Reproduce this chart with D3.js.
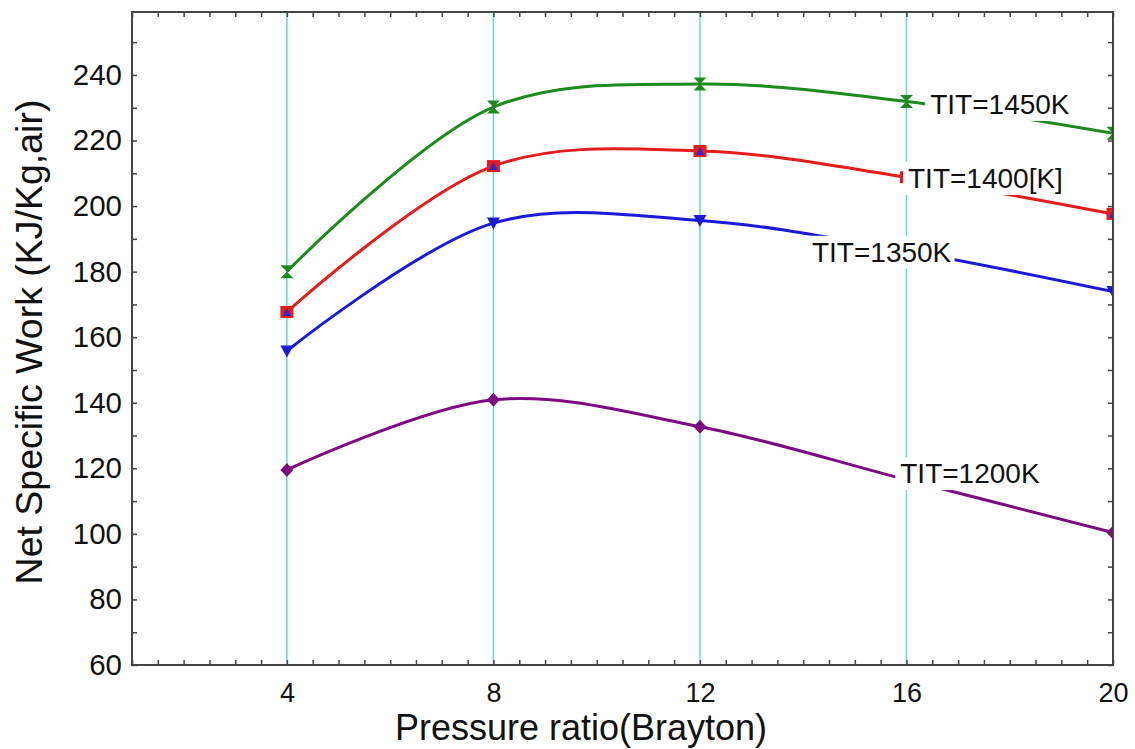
<!DOCTYPE html>
<html>
<head>
<meta charset="UTF-8">
<title>Net Specific Work</title>
<style>
body, html {
	padding: 0;
	margin: 0;
	overflow: hidden;
	background: #ffffff;
	font-family: Arial, 'Liberation Sans', sans-serif;
}
</style>
<script src="https://cdn.jsdelivr.net/npm/d3@7"></script>
</head>
<body>
<div id="chart"></div>
<script>
// values
var pressureRatio = [4, 8, 12, 16, 20];
var work1450 = [180.0, 230.2, 237.2, 231.9, 222.2];
var work1400 = [167.7, 212.2, 216.8, 208.8, 197.6];
var work1350 = [155.8, 194.8, 195.6, 186.3, 173.9];
var work1200 = [119.5, 140.9, 132.7, 116.5, 100.4];

var seriesNames = ["TIT=1450K", "TIT=1400[K]", "TIT=1350K", "TIT=1200K"];
var xTickLabels = [4, 8, 12, 16, 20];
var yTickLabels = [60, 80, 100, 120, 140, 160, 180, 200, 220, 240];
var gridX = [4, 8, 12, 16];

// where each curve label sits, in data units (text start, baseline)
var labelX = [16.46, 16.03, 14.17, 15.88];
var labelY = [228.1, 205.5, 183.0, 115.5];

var colors = ["#1c8a1c", "#e41c1c", "#1a1ad8", "#7d0a80"];
var markers = ["hourglass", "square", "down", "diamond"];

var width = 1135;
var height = 749;
var margin = {top: 12, right: 22, bottom: 84, left: 132};

var svg = d3.select("#chart").append("svg")
	.attr("width", width)
	.attr("height", height)
	.style("background", "#ffffff");

var x = d3.scaleLinear().domain([1, 20]).range([margin.left, width - margin.right]);
var y = d3.scaleLinear().domain([60, 259.2]).range([height - margin.bottom, margin.top]);

svg.append("clipPath").attr("id", "plotclip").append("rect")
	.attr("x", margin.left).attr("y", margin.top)
	.attr("width", width - margin.left - margin.right)
	.attr("height", height - margin.top - margin.bottom);

// cyan vertical grid
svg.append("g").selectAll("line").data(gridX).enter().append("line")
	.attr("x1", function(d) {return x(d)}).attr("x2", function(d) {return x(d)})
	.attr("y1", margin.top).attr("y2", height - margin.bottom)
	.attr("stroke", "#5fd9de").attr("stroke-width", 1.5);

var allSeries = [work1450, work1400, work1350, work1200];

var line = d3.line()
	.x(function(d, i) {return x(pressureRatio[i])})
	.y(function(d) {return y(d)})
	.curve(d3.curveCatmullRom.alpha(0.5));

var plot = svg.append("g").attr("clip-path", "url(#plotclip)");

plot.selectAll("path.curve").data(allSeries).enter().append("path")
	.attr("class", "curve")
	.attr("d", line)
	.attr("fill", "none")
	.attr("stroke", function(d, i) {return colors[i]})
	.attr("stroke-width", 3);

function markerPath(type) {
	switch (type) {
		case "hourglass":
			return "M-6.5,-6.5L6.5,-6.5L0,0L6.5,6.5L-6.5,6.5L0,0Z";
		case "square":
			return "M-6.5,-6L6.5,-6L6.5,6L-6.5,6Z";
		case "down":
			return "M-6.5,-5.5L6.5,-5.5L0,6.5Z";
		default:
			return "M0,-7L6.5,0L0,7L-6.5,0Z";
	}
}

allSeries.forEach(function(s, k) {
	var g = plot.append("g");
	g.selectAll("path").data(s).enter().append("path")
		.attr("transform", function(d, i) {return "translate(" + x(pressureRatio[i]) + "," + y(d) + ")"})
		.attr("d", markerPath(markers[k]))
		.attr("fill", colors[k]);
	if (markers[k] == "square") {
		g.selectAll("path.inner").data(s).enter().append("path")
			.attr("class", "inner")
			.attr("transform", function(d, i) {return "translate(" + x(pressureRatio[i]) + "," + y(d) + ")"})
			.attr("d", "M0,-4L4,4L-4,4Z")
			.attr("fill", "#2a2ad0");
	}
});

// curve labels on white boxes
var labels = svg.append("g");
seriesNames.forEach(function(name, i) {
	var g = labels.append("g");
	var t = g.append("text")
		.attr("x", x(labelX[i]))
		.attr("y", y(labelY[i]))
		.attr("font-size", "28px")
		.attr("fill", "#111111")
		.text(name);
	var b = t.node().getBBox();
	g.insert("rect", "text")
		.attr("x", b.x - 5).attr("y", b.y - 1)
		.attr("width", b.width + 8).attr("height", b.height + 2)
		.attr("fill", "#ffffff");
});

// axes, ticks inside on all four sides
var xTicks = d3.range(1, 20.01, 0.5);
var yTicks = d3.range(60, 259, 10);

var bottom = svg.append("g")
	.attr("transform", "translate(0," + (height - margin.bottom) + ")")
	.call(d3.axisBottom(x).tickValues(xTicks).tickSize(-5)
		.tickFormat(function(d) {return xTickLabels.indexOf(d) != -1 ? d : ""}));
bottom.selectAll("text").attr("y", 37).attr("dy", 0).attr("font-size", "27px");

svg.append("g")
	.attr("transform", "translate(0," + margin.top + ")")
	.call(d3.axisTop(x).tickValues(xTicks).tickSize(-5).tickFormat(""));

var left = svg.append("g")
	.attr("transform", "translate(" + margin.left + ",0)")
	.call(d3.axisLeft(y).tickValues(yTicks).tickSize(-5)
		.tickFormat(function(d) {return yTickLabels.indexOf(d) != -1 ? d : ""}));
left.selectAll("text").attr("x", -10).attr("font-size", "29.5px");

svg.append("g")
	.attr("transform", "translate(" + (width - margin.right) + ",0)")
	.call(d3.axisRight(y).tickValues(yTicks).tickSize(-5).tickFormat(""));

svg.selectAll(".domain").remove();
svg.selectAll(".tick line").attr("stroke", "#444444").attr("stroke-width", 1.5);
svg.selectAll(".tick text").attr("fill", "#111111").attr("font-family", "Arial, 'Liberation Sans', sans-serif");

svg.append("rect")
	.attr("x", margin.left).attr("y", margin.top)
	.attr("width", width - margin.left - margin.right)
	.attr("height", height - margin.top - margin.bottom)
	.attr("fill", "none")
	.attr("stroke", "#444444")
	.attr("stroke-width", 2);

// axis titles
svg.append("text")
	.attr("x", 581).attr("y", 740)
	.attr("text-anchor", "middle")
	.attr("font-size", "36px")
	.attr("fill", "#111111")
	.text("Pressure ratio(Brayton)");

svg.append("text")
	.attr("transform", "translate(42," + 342 + ") rotate(-90)")
	.attr("text-anchor", "middle")
	.attr("font-size", "37.5px")
	.attr("fill", "#111111")
	.text("Net Specific Work (KJ/Kg,air)");
</script>
</body>
</html>
